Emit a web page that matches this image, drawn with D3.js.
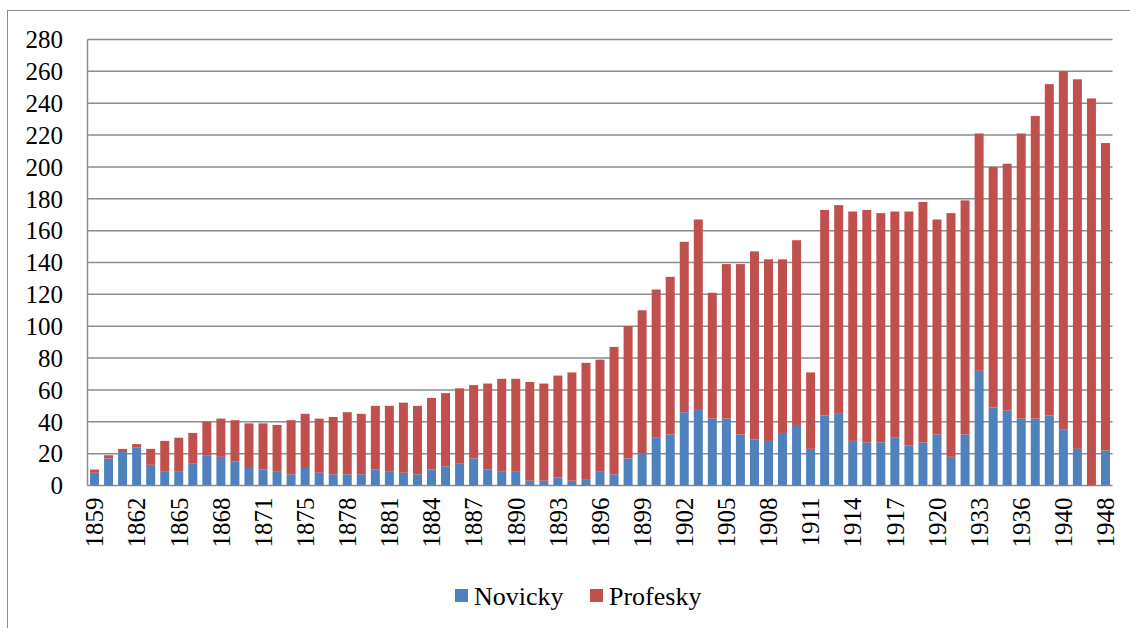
<!DOCTYPE html>
<meta charset="utf-8">
<body style="margin:0">
    <svg width="1130" height="628">
        <text class="key" font-family="Liberation Serif" font-size="26">Novicky</text>
        <text class="key" font-family="Liberation Serif" font-size="26">Profesky</text>
    </svg>
</body>
<script src="https://cdnjs.cloudflare.com/ajax/libs/d3/7.8.5/d3.min.js"></script>
<script>

    // years on the category axis (not continuous, only every 3rd one is labelled)
    var years = [1859, 1860, 1861, 1862, 1863, 1864, 1865, 1866, 1867, 1868, 1869, 1870, 1871,
        1872, 1873, 1875, 1876, 1877, 1878, 1879, 1880, 1881, 1882, 1883, 1884, 1885, 1886,
        1887, 1888, 1889, 1890, 1891, 1892, 1893, 1894, 1895, 1896, 1897, 1898, 1899, 1900,
        1901, 1902, 1903, 1904, 1905, 1906, 1907, 1908, 1909, 1910, 1911, 1912, 1913, 1914,
        1915, 1916, 1917, 1918, 1919, 1920, 1931, 1932, 1933, 1934, 1935, 1936, 1937, 1938,
        1940, 1941, 1946, 1948];

    var novicky = [8, 17, 21, 24, 13, 9, 9, 14, 19, 18, 15, 11, 10,
        9, 7, 11, 8, 7, 7, 7, 10, 9, 8, 7, 10, 12, 14,
        17, 10, 9, 9, 3, 3, 5, 3, 4, 9, 7, 17, 20, 30,
        32, 46, 48, 42, 42, 32, 29, 28, 33, 38, 23, 44, 45, 28,
        27, 27, 30, 25, 27, 32, 18, 32, 72, 49, 47, 42, 42, 44,
        35, 23, 0, 22];

    var profesky = [2, 2, 2, 2, 10, 19, 21, 19, 21, 24, 26, 28, 29,
        29, 34, 34, 34, 36, 39, 38, 40, 41, 44, 43, 45, 46, 47,
        46, 54, 58, 58, 62, 61, 64, 68, 73, 70, 80, 83, 90, 93,
        99, 107, 119, 79, 97, 107, 118, 114, 109, 116, 48, 129, 131, 144,
        146, 144, 142, 147, 151, 135, 153, 147, 149, 151, 155, 179, 190, 208,
        225, 232, 243, 193];

    var seriesNames = ["Novicky", "Profesky"];
    var seriesColors = ["#4f81bd", "#c0504d"];
    var yTicks = d3.range(0, 281, 20);

    var labelFont = "Liberation Serif";

    var svg = d3.select("svg"),
        width = +svg.attr("width"),
        height = +svg.attr("height");

    // outer chart border (cut off on the right and bottom)
    svg.insert("rect", ":first-child")
        .attr("x", 7.5)
        .attr("y", 10.5)
        .attr("width", width + 20)
        .attr("height", height + 20)
        .attr("fill", "none")
        .attr("stroke", "#8c8c8c")
        .attr("stroke-width", 1);

    var plot = { left: 87.5, right: 1112.5, top: 39.5, bottom: 485.5 };

    var x = d3.scaleBand()
        .domain(years)
        .range([plot.left, plot.right])
        .paddingInner(0.36)
        .paddingOuter(0.18);

    var y = d3.scaleLinear()
        .domain([0, 280])
        .range([plot.bottom, plot.top]);

    // gridlines
    svg.selectAll("line.grid")
        .data(yTicks)
        .enter()
        .append("line")
        .attr("class", "grid")
        .attr("x1", plot.left)
        .attr("x2", plot.right)
        .attr("y1", d => y(d))
        .attr("y2", d => y(d))
        .attr("stroke", "#8c8c8c")
        .attr("stroke-width", 1.5);

    // left axis line
    svg.append("line")
        .attr("x1", plot.left)
        .attr("x2", plot.left)
        .attr("y1", plot.top)
        .attr("y2", plot.bottom)
        .attr("stroke", "#8c8c8c")
        .attr("stroke-width", 1.5);

    // stack the two series
    var rows = years.map(function(yr, i) {
        return { year: yr, Novicky: novicky[i], Profesky: profesky[i] };
    });
    var stacked = d3.stack().keys(seriesNames)(rows);

    svg.append("g")
        .attr("class", "bars")
        .selectAll("g")
        .data(stacked)
        .enter()
        .append("g")
        .attr("fill", (d, i) => seriesColors[i])
        .selectAll("rect")
        .data(d => d)
        .enter()
        .append("rect")
        .attr("x", d => x(d.data.year))
        .attr("width", x.bandwidth())
        .attr("y", d => y(d[1]))
        .attr("height", d => y(d[0]) - y(d[1]));

    // y tick labels
    svg.selectAll("text.ylab")
        .data(yTicks)
        .enter()
        .append("text")
        .attr("class", "ylab")
        .attr("x", 63)
        .attr("y", d => y(d))
        .attr("dy", "0.35em")
        .attr("text-anchor", "end")
        .attr("font-family", labelFont)
        .attr("font-size", 25)
        .text(d => d);

    // x tick labels, every third year, rotated
    svg.selectAll("text.xlab")
        .data(years.filter((d, i) => i % 3 === 0))
        .enter()
        .append("text")
        .attr("class", "xlab")
        .attr("transform", d => "translate(" + (x(d) + x.bandwidth() / 2) + "," + (plot.bottom + 12) + ") rotate(-90)")
        .attr("dy", "0.35em")
        .attr("text-anchor", "end")
        .attr("font-family", labelFont)
        .attr("font-size", 25)
        .text(d => d);

    // legend: swatches plus the labels already in the markup
    var legendX = [455, 590];

    svg.selectAll("rect.key")
        .data(seriesNames)
        .enter()
        .append("rect")
        .attr("class", "key")
        .attr("x", (d, i) => legendX[i])
        .attr("y", 589)
        .attr("width", 13)
        .attr("height", 13)
        .attr("fill", (d, i) => seriesColors[i]);

    svg.selectAll("text.key")
        .data(seriesNames)
        .attr("x", (d, i) => legendX[i] + 19)
        .attr("y", 605)
        .text(d => d);

</script>
